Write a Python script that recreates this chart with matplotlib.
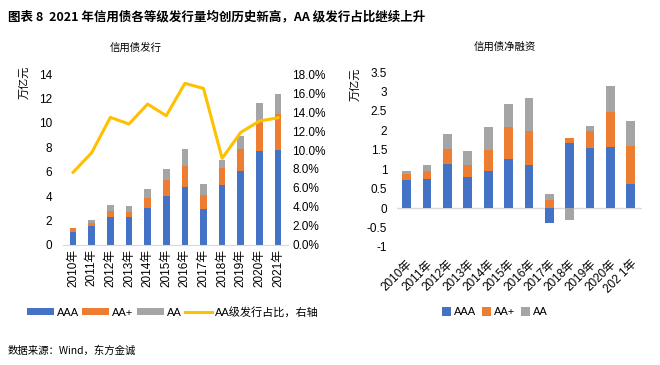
import matplotlib
matplotlib.use("Agg")
import matplotlib.pyplot as plt
import numpy as np
from matplotlib.ticker import FuncFormatter

plt.rcParams['font.family'] = ['Liberation Sans', 'Noto Sans CJK SC', 'DejaVu Sans']

years = ['2010年', '2011年', '2012年', '2013年', '2014年', '2015年',
         '2016年', '2017年', '2018年', '2019年', '2020年', '2021年']
right_labels = ['2010年', '2011年', '2012年', '2013年', '2014年', '2015年',
                '2016年', '2017年', '2018年', '2019年', '2020年', '202 1年']

# 信用债发行 (万亿元)
iss_aaa = [1.05, 1.56, 2.29, 2.29, 3.03, 4.01, 4.75, 2.97, 4.91, 6.06, 7.70, 7.78]
iss_aap = [0.30, 0.27, 0.52, 0.41, 0.82, 1.31, 1.72, 1.12, 1.39, 1.80, 2.40, 2.95]
iss_aa = [0.05, 0.24, 0.47, 0.49, 0.74, 0.90, 1.39, 0.90, 0.66, 1.06, 1.53, 1.63]
aa_share = [7.65, 9.72, 13.44, 12.74, 14.84, 13.61, 17.02, 16.49, 9.12, 11.86, 13.05, 13.40]

# 信用债净融资 (万亿元)
net_aaa = [0.73, 0.75, 1.14, 0.81, 0.96, 1.27, 1.11, -0.38, 1.68, 1.55, 1.58, 0.63]
net_aap = [0.15, 0.21, 0.39, 0.30, 0.54, 0.82, 0.88, 0.20, 0.13, 0.44, 0.90, 0.97]
net_aa = [0.08, 0.15, 0.38, 0.36, 0.59, 0.59, 0.85, 0.17, -0.30, 0.13, 0.67, 0.65]

C_AAA = '#4472C4'
C_AAP = '#ED7D31'
C_AA = '#A5A5A5'
C_LINE = '#FFC000'
CJK = ['Noto Sans CJK SC', 'DejaVu Sans']
MIX = ['Liberation Sans', 'Noto Sans CJK SC']

fig = plt.figure(figsize=(6.6, 3.65), dpi=100)

fig.text(0.012, 0.955, '图表 8  2021 年信用债各等级发行量均创历史新高，AA 级发行占比继续上升',
         fontsize=9, fontweight='bold', family=CJK, va='center', ha='left')
fig.text(0.205, 0.868, '信用债发行', fontsize=7.5, family=CJK, ha='center', va='center')
fig.text(0.765, 0.873, '信用债净融资', fontsize=7.5, family=CJK, ha='center', va='center')
fig.text(0.012, 0.038, '数据来源：Wind，东方金诚', fontsize=7.5, family=CJK, ha='left', va='center')

# ---------- left chart ----------
x = np.arange(len(years))
ax = fig.add_axes([0.0955, 0.329, 0.341, 0.468])
w = 0.36
b1 = ax.bar(x, iss_aaa, w, color=C_AAA, label='AAA', zorder=2)
b2 = ax.bar(x, iss_aap, w, bottom=iss_aaa, color=C_AAP, label='AA+', zorder=2)
b3 = ax.bar(x, iss_aa, w, bottom=np.array(iss_aaa) + np.array(iss_aap), color=C_AA, label='AA', zorder=2)
ax.set_ylim(0, 14)
ax.set_yticks(np.arange(0, 15, 2))
ax.set_xlim(-0.54, 11.54)
ax.set_xticks(x)
ax.set_xticklabels(years, rotation=90, fontsize=8.5, family=MIX)
for s in ['top', 'right', 'left']:
    ax.spines[s].set_visible(False)
ax.spines['bottom'].set_color('#D9D9D9')
ax.tick_params(axis='both', length=0, labelsize=8.5)
ax.tick_params(axis='y', pad=8)
ax.tick_params(axis='x', pad=3)
ax.text(-0.17, 0.95, '万亿元', transform=ax.transAxes, rotation=90, fontsize=8,
        family=CJK, ha='center', va='center')

ax2 = ax.twinx()
l1, = ax2.plot(x, aa_share, color=C_LINE, lw=2.2, label='AA级发行占比，右轴', zorder=3)
ax2.set_ylim(0, 18)
ax2.set_yticks(np.arange(0, 19, 2))
ax2.yaxis.set_major_formatter(FuncFormatter(lambda v, p: f'{v:.1f}%'))
for s in ['top', 'right', 'left', 'bottom']:
    ax2.spines[s].set_visible(False)
ax2.tick_params(axis='y', length=0, labelsize=8.5, pad=3)

fig.legend([b1, b2, b3, l1], ['AAA', 'AA+', 'AA', 'AA级发行占比，右轴'],
           loc='center', bbox_to_anchor=(0.262, 0.145), ncol=4, frameon=False,
           prop={'family': MIX, 'size': 8}, handlelength=2.4, handletextpad=0.3,
           columnspacing=0.3, handleheight=0.6)

# ---------- right chart ----------
bx = fig.add_axes([0.6015, 0.3233, 0.371, 0.4794])
w2 = 0.43
aaa = np.array(net_aaa)
aap = np.array(net_aap)
aa = np.array(net_aa)
bx.bar(x, aaa, w2, color=C_AAA, label='AAA', zorder=2)
pos_base = np.where(aaa > 0, aaa, 0.0)
neg_base = np.where(aaa < 0, aaa, 0.0)
aap_bottom = np.where(aap >= 0, pos_base, neg_base)
bx.bar(x, aap, w2, bottom=aap_bottom, color=C_AAP, label='AA+', zorder=2)
pos_base = pos_base + np.where(aap > 0, aap, 0.0)
neg_base = neg_base + np.where(aap < 0, aap, 0.0)
aa_bottom = np.where(aa >= 0, pos_base, neg_base)
bx.bar(x, aa, w2, bottom=aa_bottom, color=C_AA, label='AA', zorder=2)
bx.set_ylim(-1, 3.5)
bx.set_yticks([-1, -0.5, 0, 0.5, 1, 1.5, 2, 2.5, 3, 3.5])
bx.yaxis.set_major_formatter(FuncFormatter(lambda v, p: f'{v:g}'))
bx.set_xlim(-0.48, 11.55)
bx.set_xticks(x)
bx.set_xticklabels(right_labels, rotation=45, ha='right', rotation_mode='anchor',
                   fontsize=8.5, family=MIX)
for s in ['top', 'right', 'left', 'bottom']:
    bx.spines[s].set_visible(False)
bx.axhline(0, color='#D9D9D9', lw=1, zorder=1)
bx.tick_params(axis='both', length=0, labelsize=8.5)
bx.tick_params(axis='y', pad=7)
bx.tick_params(axis='x', pad=8)
bx.text(-0.17, 0.93, '万亿元', transform=bx.transAxes, rotation=90, fontsize=8,
        family=CJK, ha='center', va='center')
fig.legend(*bx.get_legend_handles_labels(), loc='center', bbox_to_anchor=(0.75, 0.145),
           ncol=3, frameon=False,
           prop={'family': MIX, 'size': 8}, handlelength=0.8, handleheight=0.8,
           handletextpad=0.3, columnspacing=0.5)

fig.savefig('out.png', dpi=100)
